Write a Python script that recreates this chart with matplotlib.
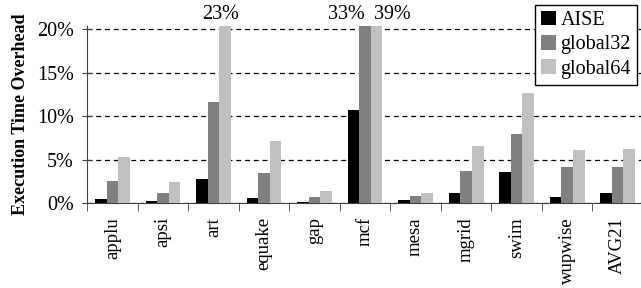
import matplotlib
matplotlib.use('Agg')
import matplotlib.pyplot as plt
import numpy as np

# данные
benchmarks = ['applu', 'apsi', 'art', 'equake', 'gap', 'mcf', 'mesa',
              'mgrid', 'swim', 'wupwise', 'AVG21']
aise = [0.5, 0.25, 2.8, 0.6, 0.15, 10.7, 0.35, 1.15, 3.6, 0.7, 1.2]
global32 = [2.5, 1.15, 11.6, 3.5, 0.7, 33, 0.8, 3.7, 7.9, 4.1, 4.1]
global64 = [5.3, 2.4, 23, 7.1, 1.4, 39, 1.15, 6.6, 12.7, 6.1, 6.2]
series_names = ['AISE', 'global32', 'global64']
colors = ['#000000', '#808080', '#c0c0c0']

plt.rcParams['font.family'] = ['Liberation Serif', 'DejaVu Serif']

fig = plt.figure(figsize=(6.41, 2.88), dpi=100)
ax = fig.add_axes([0.136, 0.295, 0.867, 0.616])

x = np.arange(len(benchmarks))
w = 0.23
for i, (vals, name, c) in enumerate(zip([aise, global32, global64], series_names, colors)):
    ax.bar(x + (i - 1) * w, vals, w, color=c, label=name, zorder=3)

ymax = 20.4
ax.set_ylim(0, ymax)
ax.set_xlim(-0.5, len(benchmarks) - 0.5)
ax.set_yticks([0, 5, 10, 15, 20])
ax.set_yticklabels(['0%', '5%', '10%', '15%', '20%'], fontsize=14.5)
ax.yaxis.grid(True, linestyle=(0, (4, 3)), color='black', linewidth=0.9, zorder=0)

ax.set_xticks(x)
ax.set_xticklabels(benchmarks, rotation=90, fontsize=13.5)
ax.tick_params(axis='x', which='major', length=0, pad=10)
ax.set_xticks(np.arange(len(benchmarks) + 1) - 0.5, minor=True)
ax.tick_params(axis='x', which='minor', length=6, direction='out', color='#404040')
ax.tick_params(axis='y', length=7, direction='inout', pad=6, color='#404040')

for s in ['top', 'right']:
    ax.spines[s].set_visible(False)
for s in ['left', 'bottom']:
    ax.spines[s].set_color('#404040')

ax.set_ylabel('Execution Time Overhead', fontsize=13, fontweight='bold', labelpad=6)

# подписи для срезанных столбцов
labels = [(2, 0.15, global64[2]), (5, -0.37, global32[5]), (5, 0.55, global64[5])]
for idx, off, v in labels:
    ax.text(idx + off, 21.2, '%d%%' % v, ha='center', va='baseline',
            fontsize=14.5, clip_on=False)

leg = ax.legend(loc='upper right', bbox_to_anchor=(0.994, 0.983),
                bbox_transform=fig.transFigure, fontsize=14.5,
                handlelength=0.72, handleheight=0.72, handletextpad=0.25,
                labelspacing=0.25, borderpad=0.3, borderaxespad=0,
                fancybox=False, edgecolor='black', framealpha=1)
leg.get_frame().set_linewidth(1.0)

fig.savefig('out.png', dpi=100)
